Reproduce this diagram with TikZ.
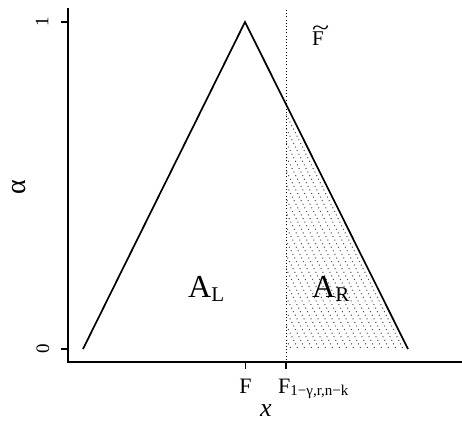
\documentclass[tikz,border=0pt]{standalone}
\usepackage{graphicx}
\usepackage{fontspec}
\setmainfont{Liberation Serif}
\begin{document}
\begin{tikzpicture}[x=1pt,y=-1pt, every node/.style={inner sep=0pt},
  axis/.style={line width=1.1pt},
  tri/.style={line width=1.7pt,line join=miter},
  hatch/.style={black!70,line width=1pt,dash pattern=on 1pt off 3pt},
  ticklbl/.style={font=\fontsize{19}{20}\selectfont,rotate=90},
  area/.style={font=\fontsize{32}{34}\selectfont,anchor=base west}]
  \useasboundingbox (0,0) rectangle (462,422);
  \coordinate (left) at (83,349); \coordinate (peak) at (245,22); \coordinate (right) at (408,349);
  \coordinate (cut) at (286,104); \coordinate (cutb) at (286,349);
  % shaded part right of the cut
  \begin{scope}
    \clip (cutb) -- (cut) -- (right) -- cycle;
    \foreach \i in {-126,-119,...,0} \draw[hatch] (286+\i,100) -- (411.6+\i,352);
  \end{scope}
  \draw[line width=0.9pt,dash pattern=on 1pt off 2.2pt] (286,10) -- (286,362);
  \draw[tri] (left) -- (peak) -- (right);
  % axes
  \draw[axis] (68,8) -- (68,362) -- (462,362);
  \draw[axis] (68,22) -- (61,22) (68,349) -- (61,349);
  \draw[axis] (245.5,362) -- (245.5,369) (286,362) -- (286,369);
  \node[ticklbl] (one) at (42,22) {1};
  \node[ticklbl] (zero) at (43,349) {0};
  \node[rotate=90,font=\fontsize{28}{30}\selectfont] (alpha) at (19,187) {α};
  \node[font=\fontsize{22}{24}\selectfont,anchor=base] (f) at (245.5,393) {F};
  \node[font=\fontsize{22}{24}\selectfont,anchor=base west] (fq) at (278,393)
    {F\raisebox{-0.25ex}{\fontsize{15}{16}\selectfont 1−γ,r,n−k}};
  \node[font=\fontsize{26}{28}\selectfont\itshape] (xlab) at (266,411) {x};
  \node[font=\fontsize{21}{22}\selectfont,anchor=base] (ft) at (318,46)
    {\makebox[0pt][l]{\raisebox{0.5em}{\scalebox{1.5}[1.1]{\textasciitilde}}}F};
  \node[area] (al) at (188,297) {A\raisebox{-0.3ex}{\fontsize{21}{22}\selectfont L}};
  \node[area] (ar) at (312,297) {A\raisebox{-0.3ex}{\fontsize{21}{22}\selectfont R}};
\end{tikzpicture}
\end{document}
